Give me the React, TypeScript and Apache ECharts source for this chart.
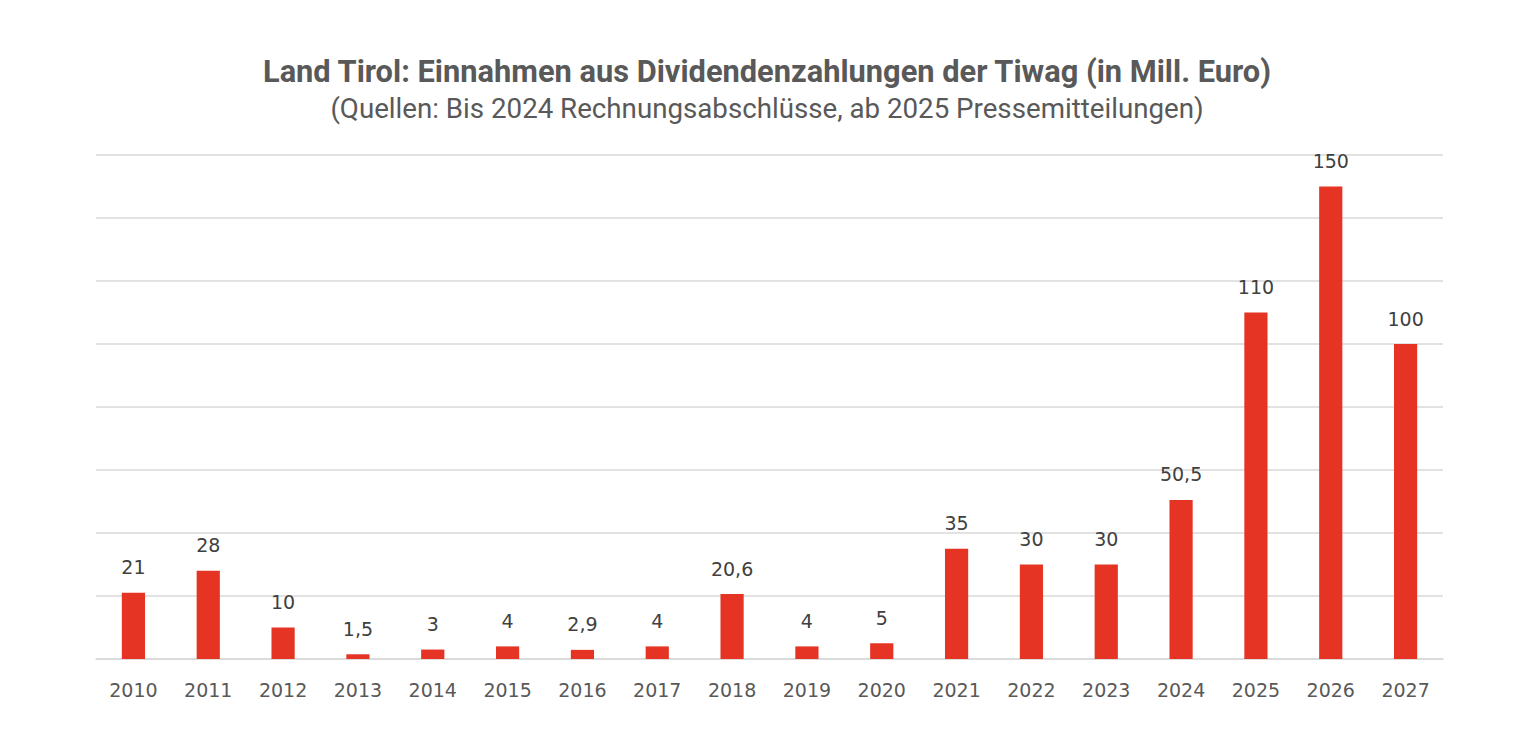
import React, { useEffect, useRef } from "react";
import * as echarts from "echarts";

const years = ["2010","2011","2012","2013","2014","2015","2016","2017","2018","2019","2020","2021","2022","2023","2024","2025","2026","2027"];
const dividends = [21, 28, 10, 1.5, 3, 4, 2.9, 4, 20.6, 4, 5, 35, 30, 30, 50.5, 110, 150, 100];
const titleText = "Land Tirol: Einnahmen aus Dividendenzahlungen der Tiwag (in Mill. Euro)";
const subtitleText = "(Quellen: Bis 2024 Rechnungsabschlüsse, ab 2025 Pressemitteilungen)";

export default function App() {
  const ref = useRef<HTMLDivElement>(null);
  useEffect(() => {
    if (!ref.current) return;
    const chart = echarts.init(ref.current, null, { renderer: "svg" });
    chart.setOption({
      animation: false,
      backgroundColor: "#ffffff",
      title: [
        {
          text: titleText,
          left: "center",
          top: 51,
          textStyle: { fontFamily: "Roboto", fontWeight: "bold", fontSize: 30.8, color: "#595959" },
        },
        {
          text: subtitleText,
          left: "center",
          top: 89,
          textStyle: { fontFamily: "Roboto", fontWeight: "normal", fontSize: 27.7, color: "#595959" },
        },
      ],
      grid: { left: 96, right: 91, top: 155, bottom: 77 },
      xAxis: {
        type: "category",
        data: years,
        axisTick: { show: false },
        axisLine: { lineStyle: { color: "#d9d9d9", width: 1.5 } },
        axisLabel: { fontFamily: "DejaVu Sans", fontSize: 19, color: "#595959", margin: 21 },
      },
      yAxis: {
        type: "value",
        min: 0,
        max: 160,
        interval: 20,
        axisLabel: { show: false },
        axisLine: { show: false },
        axisTick: { show: false },
        splitLine: { lineStyle: { color: "#d9d9d9", width: 1.5 } },
      },
      series: [
        {
          type: "bar",
          data: dividends,
          barWidth: "31%",
          itemStyle: { color: "#e53424" },
          label: {
            show: true,
            position: "top",
            distance: 16,
            fontFamily: "DejaVu Sans",
            fontSize: 19,
            color: "#404040",
            formatter: (p: any) => String(p.value).replace(".", ","),
          },
        },
      ],
    });
    return () => chart.dispose();
  }, []);
  return <div ref={ref} style={{ position: "fixed", left: 0, top: 0, width: 1534, height: 736 }} />;
}
